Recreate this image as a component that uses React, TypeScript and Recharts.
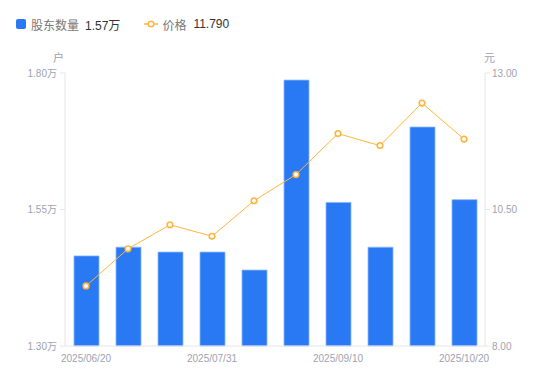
import { ComposedChart, Bar, Line, XAxis, YAxis } from "recharts";

const dates = ["2025/06/20", "2025/07/03", "2025/07/17", "2025/07/31", "2025/08/14", "2025/08/28", "2025/09/10", "2025/09/24", "2025/10/10", "2025/10/20"];
const holders = [1.465, 1.481, 1.472, 1.472, 1.439, 1.787, 1.563, 1.481, 1.701, 1.568];
const prices = [9.1, 9.78, 10.22, 10.01, 10.66, 11.14, 11.89, 11.67, 12.45, 11.79];
const holderTicks = [1.3, 1.55, 1.8];
const priceTicks = [8, 10.5, 13];

const BLUE = "#2979f4";
const ORANGE = "#ffb53d";
const GRAY = "#a0a2b0";
const FONT = "'Liberation Sans', 'Noto Sans CJK SC', sans-serif";

const data = dates.map((d, i) => ({ date: d, holders: holders[i], price: prices[i] }));

export default function App() {
  const tick = { fontSize: 10, fill: GRAY, fontFamily: FONT };
  return (
    <div style={{ position: "absolute", left: 0, top: 0, width: 550, height: 381, background: "#fff", fontFamily: FONT }}>
      {/* legend */}
      <div style={{ position: "absolute", left: 16, top: 16, display: "flex", alignItems: "center", fontSize: 12, height: 16 }}>
        <span style={{ width: 10, height: 10, background: BLUE, borderRadius: 2, display: "inline-block", marginRight: 5 }} />
        <span style={{ color: "#777" }}>股东数量</span>
        <span style={{ color: "#333", marginLeft: 6 }}>1.57万</span>
        <svg width="14" height="10" style={{ marginLeft: 24, marginRight: 4 }}>
          <line x1="0" y1="5" x2="14" y2="5" stroke={ORANGE} strokeWidth="1.5" />
          <circle cx="7" cy="5" r="2.8" fill="#fff" stroke={ORANGE} strokeWidth="1.5" />
        </svg>
        <span style={{ color: "#777" }}>价格</span>
        <span style={{ color: "#333", marginLeft: 7 }}>11.790</span>
      </div>
      <div style={{ position: "absolute", left: 53, top: 49, fontSize: 11, color: GRAY }}>户</div>
      <div style={{ position: "absolute", left: 484, top: 49, fontSize: 11, color: GRAY }}>元</div>
      <ComposedChart width={550} height={381} data={data} margin={{ top: 73, right: 0, bottom: 0, left: 0 }}>
        <XAxis
          dataKey="date"
          interval={2}
          height={35}
          tick={tick}
          tickLine={false}
          axisLine={{ stroke: "#e6e6e6" }}
          tickMargin={3}
        />
        <YAxis
          yAxisId="l"
          width={65}
          domain={[1.3, 1.8]}
          ticks={holderTicks}
          tickFormatter={(v: number) => v.toFixed(2) + "万"}
          tick={tick}
          tickSize={5}
          tickMargin={3}
          tickLine={{ stroke: "#e6e6e6" }}
          axisLine={{ stroke: "#e6e6e6" }}
        />
        <YAxis
          yAxisId="r"
          orientation="right"
          width={65}
          domain={[8, 13]}
          ticks={priceTicks}
          tickFormatter={(v: number) => v.toFixed(2)}
          tick={tick}
          tickSize={5}
          tickMargin={2}
          tickLine={{ stroke: "#e6e6e6" }}
          axisLine={{ stroke: "#e6e6e6" }}
        />
        <Bar yAxisId="l" dataKey="holders" fill={BLUE} stroke="#8ab6f8" strokeWidth={0.8} barSize={25} isAnimationActive={false} />
        <Line
          yAxisId="r"
          dataKey="price"
          type="linear"
          stroke={ORANGE}
          strokeWidth={1}
          dot={{ r: 2.8, fill: "#fff", stroke: ORANGE, strokeWidth: 1.6 }}
          activeDot={false}
          isAnimationActive={false}
        />
      </ComposedChart>
    </div>
  );
}
